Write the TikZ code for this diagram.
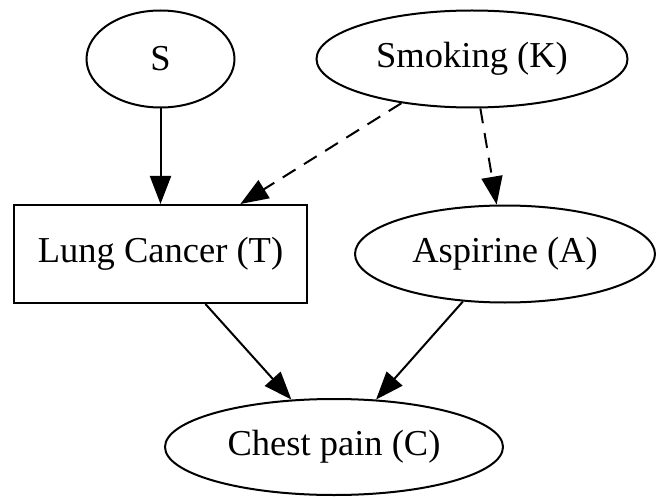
\documentclass[tikz,border=0pt]{standalone}
\usepackage{fontspec}
\setmainfont{Liberation Serif}
\usetikzlibrary{arrows.meta,shapes.geometric}
\tikzset{
  base/.style={draw, line width=2pt, inner sep=0pt, font=\fontsize{36.5}{40}\selectfont},
  oval/.style={base, ellipse},
  box/.style={base, rectangle},
  edge/.style={line width=2pt, -{Triangle[length=28pt,width=21pt]}},
  dashedge/.style={edge, dash pattern=on 15pt off 10pt}
}
\begin{document}
\begin{tikzpicture}[x=1pt,y=-1pt]
  \useasboundingbox (0,0) rectangle (658,497);
  \node[oval, minimum width=148pt, minimum height=97pt] (S) at (160.5,59) {S};
  \node[oval, minimum width=311pt, minimum height=97pt] (K) at (472,59) {Smoking (K)};
  \node[box, minimum width=293pt, minimum height=98pt] (T) at (160.5,254) {Lung Cancer (T)};
  \node[oval, minimum width=300pt, minimum height=97pt] (A) at (505,254) {Aspirine (A)};
  \node[oval, minimum width=338pt, minimum height=96pt] (C) at (334,447) {Chest pain (C)};
  \draw[edge] (S) -- (T);
  \draw[dashedge] (K) -- (T);
  \draw[dashedge] (K) -- (A);
  \draw[edge] (T) -- (C);
  \draw[edge] (A) -- (C);
\end{tikzpicture}
\end{document}
